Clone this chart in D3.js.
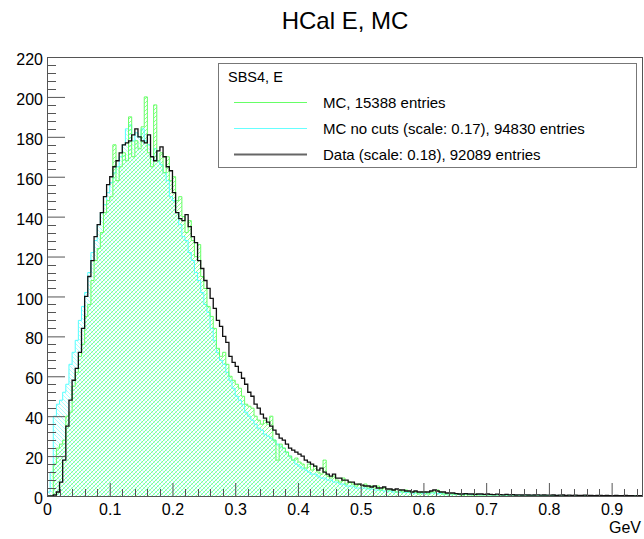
<!DOCTYPE html>
<html>
<head>
<meta charset="utf-8">
<script src="https://cdn.jsdelivr.net/npm/d3@7"></script>
<style>
  html, body { margin: 0; padding: 0; background: #fff; }
  svg { display: block; }
  text { font-family: "Liberation Sans", Arial, Helvetica, sans-serif; fill: #000; }
</style>
</head>
<body>
<svg id="chart" width="644" height="539"></svg>
<script>
// ---------------- DATA ----------------
const title = "HCal E, MC";
const xAxisLabel = "GeV";
const legendHeader = "SBS4, E";
const seriesNames = [
  "MC, 15388 entries",
  "MC no cuts (scale: 0.17), 94830 entries",
  "Data (scale: 0.18), 92089 entries"
];
const xDomain = [0, 0.95];
const yDomain = [0, 220];
const binStart = 0;
const binWidth = 0.005;
const xTickLabels = ["0", "0.1", "0.2", "0.3", "0.4", "0.5", "0.6", "0.7", "0.8", "0.9"];
const yTickLabels = ["0", "20", "40", "60", "80", "100", "120", "140", "160", "180", "200", "220"];

// MC (green), one value per 0.005 GeV bin
const mcValues = [
  0, 0, 16, 24, 26, 28, 40, 42, 55, 62,
  70, 76, 90, 96, 108, 118, 124, 132, 142, 148,
  150, 176, 158, 165, 172, 168, 190, 170, 178, 174,
  185, 200, 172, 165, 196, 168, 172, 162, 170, 158,
  160, 148, 150, 140, 132, 138, 128, 120, 126, 110,
  104, 95, 90, 84, 74, 70, 72, 66, 60, 58,
  56, 54, 50, 46, 45, 44, 40, 38, 36, 38,
  36, 40, 28, 18, 26, 24, 22, 20, 18, 19,
  17, 16, 14, 16, 13, 15, 12, 11, 18, 10,
  9, 10, 8, 7, 9, 6, 7, 6, 5, 6,
  5, 6, 4, 5, 4, 5, 3, 4, 3, 3,
  3, 2, 3, 2, 3, 2, 2, 2, 1, 2,
  2, 1, 2, 2, 3, 2, 1, 1, 1, 1,
  1, 1, 0, 1, 0, 0, 1, 0, 0, 0,
  0, 0, 0, 0, 0, 0, 0, 0, 0, 0,
  0, 0, 0, 0, 0, 0, 0, 0, 0, 0,
  0, 0, 0, 0, 0, 0, 0, 0, 0, 0,
  0, 0, 0, 0, 0, 0, 0, 0, 0, 0,
  0, 0, 0, 0, 0, 0, 0, 0, 0, 0
];

// MC no cuts (cyan), scaled
const mcNoCutsValues = [
  2, 12, 40, 46, 48, 52, 56, 66, 72, 78,
  88, 95, 102, 112, 122, 128, 136, 142, 146, 152,
  157, 162, 165, 170, 176, 184, 186, 178, 182, 180,
  184, 178, 176, 170, 174, 168, 166, 162, 158, 150,
  148, 142, 136, 130, 128, 122, 118, 112, 108, 102,
  96, 92, 84, 78, 72, 68, 66, 62, 58, 54,
  50, 48, 46, 42, 40, 38, 36, 34, 33, 31,
  30, 29, 28, 26, 25, 24, 22, 20, 18, 16,
  15, 14, 13, 12, 11, 11, 10, 9, 9, 8,
  8, 7, 7, 6, 6, 5, 5, 5, 4, 4,
  4, 4, 3.5, 3.5, 3, 3, 3, 2.5, 2.5, 2.5,
  2, 2, 2, 2, 1.8, 1.8, 1.5, 1.5, 1.5, 1.5,
  1.4, 1.4, 1.5, 1.6, 1.2, 1.2, 1, 1, 1, 1,
  0.9, 0.9, 0.8, 0.8, 0.8, 0.7, 0.7, 0.7, 0.6, 0.6,
  0.6, 0.5, 0.5, 0.5, 0.5, 0.4, 0.4, 0.4, 0.4, 0.4,
  0.3, 0.3, 0.4, 0.3, 0.3, 0.3, 0.3, 0.3, 0.2, 0.3,
  0.2, 0.2, 0.3, 0.2, 0.2, 0.2, 0.2, 0.2, 0.2, 0.2,
  0.2, 0.2, 0.1, 0.2, 0.2, 0.1, 0.2, 0.1, 0.1, 0.1,
  0.1, 0.1, 0.1, 0.1, 0.1, 0.1, 0.1, 0.1, 0.1, 0.1
];

// Data (black), scaled
const dataValues = [
  0, 0, 0.5, 2, 7, 18, 35, 48, 58, 64,
  72, 84, 100, 110, 118, 130, 136, 142, 150, 156,
  160, 165, 168, 172, 176, 177, 178, 181, 184, 180,
  178, 177, 181, 170, 168, 173, 175, 170, 165, 163,
  152, 142, 139, 138, 141, 135, 130, 127, 118, 114,
  108, 104, 99, 94, 88, 85, 80, 77, 70, 67,
  65, 62, 59, 56, 52, 50, 46, 44, 41, 39,
  37, 35, 33, 31, 29, 28, 26, 24, 23, 22,
  21, 20, 18, 17, 16, 15, 13, 14, 12, 11,
  10, 11, 9, 9, 8, 8, 7, 7, 6, 6,
  5.5, 5, 5, 4.5, 5, 4, 4, 4.5, 3.5, 3.5,
  3, 3.5, 3, 3, 2.5, 2.5, 2, 2.5, 2, 2,
  2, 2, 2.5, 3, 2.5, 2, 2, 1.5, 1.5, 1.5,
  1.2, 1, 1, 1.2, 1, 1, 0.8, 1, 1, 0.8,
  1, 0.8, 0.7, 0.9, 0.7, 0.6, 0.8, 0.6, 0.7, 0.5,
  0.6, 0.5, 0.6, 0.5, 0.4, 0.5, 0.6, 0.4, 0.5, 0.4,
  0.4, 0.5, 0.3, 0.4, 0.5, 0.3, 0.4, 0.3, 0.4, 0.3,
  0.3, 0.4, 0.3, 0.3, 0.2, 0.3, 0.3, 0.2, 0.3, 0.2,
  0.2, 0.3, 0.2, 0.2, 0.3, 0.2, 0.2, 0.1, 0.2, 0.2
];

// ---------------- CHART ----------------
const W = 644, H = 539;
const plot = { left: 47, right: 643, top: 57, bottom: 496 };
const svg = d3.select("#chart");

const x = d3.scaleLinear().domain(xDomain).range([plot.left, plot.right]);
const y = d3.scaleLinear().domain(yDomain).range([plot.bottom, plot.top]);

const defs = svg.append("defs");
defs.append("clipPath").attr("id", "plotClip")
  .append("rect").attr("x", plot.left).attr("y", plot.top)
  .attr("width", plot.right - plot.left).attr("height", plot.bottom - plot.top);

const pg = defs.append("pattern").attr("id", "hatchGreen")
  .attr("patternUnits", "userSpaceOnUse").attr("width", 4).attr("height", 4);
pg.append("path").attr("d", "M-1,1 L1,-1 M0,4 L4,0 M3,5 L5,3")
  .attr("stroke", "#77ff77").attr("stroke-width", 1).attr("stroke-opacity", 0.85);
const pc = defs.append("pattern").attr("id", "hatchCyan")
  .attr("patternUnits", "userSpaceOnUse").attr("width", 4).attr("height", 4);
pc.append("path").attr("d", "M-1,3 L1,5 M0,0 L4,4 M3,-1 L5,1")
  .attr("stroke", "#66ffff").attr("stroke-width", 0.9).attr("stroke-opacity", 0.6);

function toPoints(values) {
  const pts = values.map((v, i) => ({ e: binStart + i * binWidth, v }));
  pts.push({ e: binStart + values.length * binWidth, v: values[values.length - 1] });
  return pts;
}
const area = d3.area().curve(d3.curveStepAfter)
  .x(d => x(d.e)).y0(y(0)).y1(d => y(d.v));
const line = d3.line().curve(d3.curveStepAfter)
  .x(d => x(d.e)).y(d => y(d.v));

const g = svg.append("g").attr("clip-path", "url(#plotClip)");
const mcPts = toPoints(mcValues);
const ncPts = toPoints(mcNoCutsValues);
const dPts = toPoints(dataValues);

g.append("path").attr("d", area(ncPts)).attr("fill", "url(#hatchCyan)");
g.append("path").attr("d", area(mcPts)).attr("fill", "url(#hatchGreen)");
g.append("path").attr("d", line(ncPts)).attr("fill", "none").attr("stroke", "#55ffff").attr("stroke-width", 1);
g.append("path").attr("d", line(mcPts)).attr("fill", "none").attr("stroke", "#66ff66").attr("stroke-width", 1);
g.append("path").attr("d", line(dPts)).attr("fill", "none").attr("stroke", "#111").attr("stroke-width", 1.3);

// Frame
svg.append("rect")
  .attr("x", plot.left + 0.5).attr("y", plot.top + 0.5)
  .attr("width", plot.right - plot.left - 1).attr("height", plot.bottom - plot.top)
  .attr("fill", "none").attr("stroke", "#555").attr("stroke-width", 1);

// X axis
const xTickVals = xTickLabels.map(Number);
const xAxis = d3.axisBottom(x).tickValues(xTickVals).tickFormat((d, i) => xTickLabels[i])
  .tickSizeInner(-13).tickSizeOuter(0).tickPadding(19);
const xg = svg.append("g").attr("transform", `translate(0,${plot.bottom})`).call(xAxis);
xg.select(".domain").remove();
xg.selectAll(".tick line").attr("stroke", "#555");
xg.selectAll(".tick text").attr("font-size", 16).attr("dy", 0).attr("y", 19)
  .style("font-family", '"Liberation Sans", Arial, sans-serif');
const xMinor = d3.range(0, 48).map(i => i * 0.02).filter(v => v <= xDomain[1] && Math.abs(v * 10 - Math.round(v * 10)) > 1e-6);
svg.append("g").selectAll("line").data(xMinor).join("line")
  .attr("x1", d => Math.round(x(d)) + 0.5).attr("x2", d => Math.round(x(d)) + 0.5)
  .attr("y1", plot.bottom).attr("y2", plot.bottom - 7).attr("stroke", "#555");

// Y axis
const yTickVals = yTickLabels.map(Number);
const yAxis = d3.axisLeft(y).tickValues(yTickVals).tickFormat((d, i) => yTickLabels[i])
  .tickSizeInner(-18).tickSizeOuter(0).tickPadding(4);
const yg = svg.append("g").attr("transform", `translate(${plot.left},0)`).call(yAxis);
yg.select(".domain").remove();
yg.selectAll(".tick line").attr("stroke", "#555");
yg.selectAll(".tick text").attr("font-size", 16).attr("x", -4).attr("dy", "0.38em").attr("y", 1.5)
  .style("font-family", '"Liberation Sans", Arial, sans-serif');
const yMinor = d3.range(0, 56).map(i => i * 4).filter(v => v <= yDomain[1] && v % 20 !== 0);
svg.append("g").selectAll("line").data(yMinor).join("line")
  .attr("x1", plot.left).attr("x2", plot.left + 9)
  .attr("y1", d => Math.round(y(d)) + 0.5).attr("y2", d => Math.round(y(d)) + 0.5)
  .attr("stroke", "#555");

// Axis title
svg.append("text").attr("x", 641).attr("y", 533).attr("text-anchor", "end")
  .attr("font-size", 16).text(xAxisLabel);

// Title
svg.append("text").attr("x", 345).attr("y", 29).attr("text-anchor", "middle")
  .attr("font-size", 24).text(title);

// Legend
const lg = svg.append("g");
lg.append("rect").attr("x", 218.5).attr("y", 63.5).attr("width", 418).attr("height", 104)
  .attr("fill", "#fff").attr("stroke", "#777").attr("stroke-width", 1);
lg.append("text").attr("x", 228).attr("y", 82).attr("font-size", 14.5).text(legendHeader);
const legColors = ["#66ff66", "#66ffff", "#666"];
const legWidths = [1, 1, 2];
seriesNames.forEach((name, i) => {
  const yy = 102.5 + i * 26;
  lg.append("line").attr("x1", 234).attr("x2", 307).attr("y1", yy).attr("y2", yy)
    .attr("stroke", legColors[i]).attr("stroke-width", legWidths[i]);
  lg.append("text").attr("x", 323).attr("y", yy + 5.3).attr("font-size", 15).text(name);
});
</script>
</body>
</html>
